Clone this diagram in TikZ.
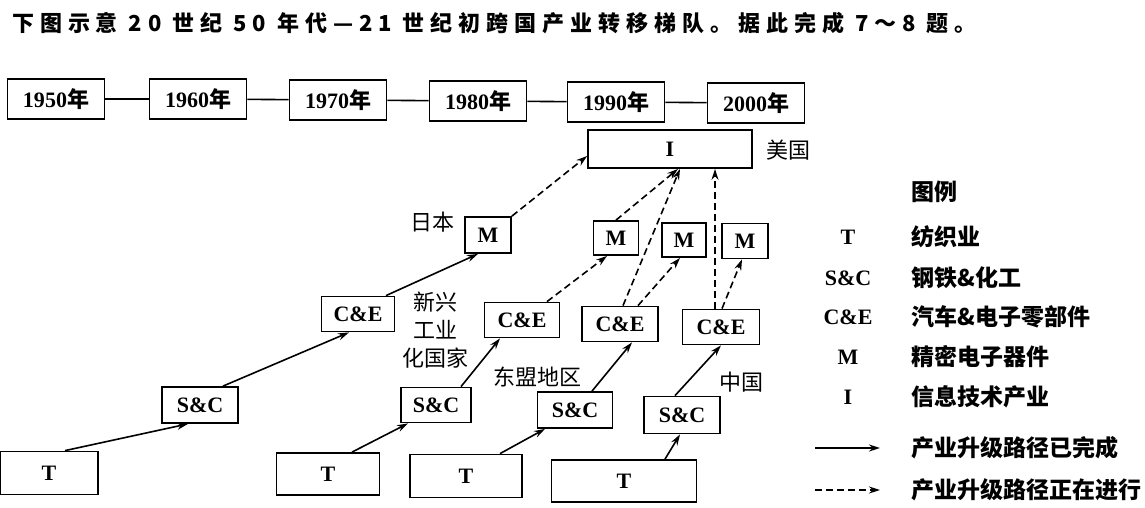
\documentclass[tikz,border=0pt]{standalone}
\usepackage{fontspec}
\setmainfont{Liberation Serif}
\newfontfamily\cjk{Noto Sans CJK SC}
\usetikzlibrary{arrows.meta,calc}
\newcommand\yrtxt[1]{#1{\cjk\bfseries 年}}
\begin{document}
\begin{tikzpicture}[x=1pt,y=-1pt,
  box/.style={draw,line width=1.8pt,inner sep=0pt,font=\fontsize{22}{24}\selectfont\bfseries},
  yr/.style={box,minimum width=97pt,minimum height=40pt},
  done/.style={line width=1.6pt,-{Stealth[length=11pt,width=7pt]}},
  todo/.style={done,dash pattern=on 7pt off 4pt},
  lab/.style={font=\fontsize{22}{28}\selectfont\cjk},
  legc/.style={font=\fontsize{22}{24}\selectfont\bfseries},
  legt/.style={anchor=west,font=\fontsize{23}{25}\selectfont\cjk\bfseries},
]
\useasboundingbox (0,0) rectangle (1145,508);
\fill[white] (0,0) rectangle (1145,508);

% title
\node[anchor=west,inner sep=0pt,font=\cjk\bfseries\fontsize{22}{24}\selectfont\addfontfeatures{LetterSpace=27}] (title) at (12,23)
  {下图示意 20 世纪 50 年代—21 世纪初跨国产业转移梯队。据此完成 7～8 题。};

% timeline
\node[yr] (y1950) at (56,99) {\yrtxt{1950}};
\node[yr] (y1960) at (198,99) {\yrtxt{1960}};
\node[yr] (y1970) at (338,100) {\yrtxt{1970}};
\node[yr] (y1980) at (478,101) {\yrtxt{1980}};
\node[yr] (y1990) at (616,102) {\yrtxt{1990}};
\node[yr] (y2000) at (756,103) {\yrtxt{2000}};
\foreach \a/\b in {y1950/y1960,y1960/y1970,y1970/y1980,y1980/y1990,y1990/y2000}
  \draw[line width=1.6pt] (\a) -- (\b);

% I
\node[box,minimum width=164pt,minimum height=38pt] (I) at (670,149) {I};
\node[lab] (usa) at (788,150) {美国};

% Japan chain
\node[box,minimum width=98pt,minimum height=43pt] (T1) at (49,473) {T};
\node[box,minimum width=76pt,minimum height=36pt] (SC1) at (200,405) {S\&C};
\node[box,minimum width=73pt,minimum height=35pt] (CE1) at (358,314) {C\&E};
\node[box,minimum width=46pt,minimum height=36pt] (MJ) at (488,235) {M};
\node[lab] (jp) at (432,222) {日本};

% NIE chain
\node[box,minimum width=103pt,minimum height=42pt] (T2) at (328,474) {T};
\node[box,minimum width=70pt,minimum height=35pt] (SC2) at (436,405) {S\&C};
\node[box,minimum width=75pt,minimum height=35pt] (CE2) at (522,320) {C\&E};
\node[box,minimum width=45pt,minimum height=34pt] (M2) at (616,238) {M};
\node[lab,align=center] (nie) at (435,330) {新兴\\工业\\化国家};

% ASEAN chain
\node[box,minimum width=112pt,minimum height=43pt] (T3) at (466,476) {T};
\node[box,minimum width=75pt,minimum height=36pt] (SC3) at (575,410) {S\&C};
\node[box,minimum width=76pt,minimum height=35pt] (CE3) at (620,324) {C\&E};
\node[box,minimum width=44pt,minimum height=34pt] (M3) at (684,240) {M};
\node[lab] (asean) at (537,377) {东盟地区};

% China chain
\node[box,minimum width=145pt,minimum height=42pt] (T4) at (624,481) {T};
\node[box,minimum width=76pt,minimum height=37pt] (SC4) at (682,415) {S\&C};
\node[box,minimum width=77pt,minimum height=35pt] (CE4) at (721,327) {C\&E};
\node[box,minimum width=46pt,minimum height=35pt] (M4) at (745,241) {M};
\node[lab] (cn) at (741,382) {中国};

% solid arrows
\draw[done] ($(T1.north)+(16,0)$) -- ($(SC1.south)+(-12,0)$);
\draw[done] ($(SC1.north)+(23,0)$) -- ($(CE1.south)+(-9,0)$);
\draw[done] ($(CE1.north)+(28,0)$) -- ($(MJ.south)+(-10,0)$);
\draw[done] ($(T2.north)+(24,0)$) -- ($(SC2.south)+(-28,0)$);
\draw[done] ($(SC2.north)+(25,0)$) -- ($(CE2.south)+(-22,0)$);
\draw[done] ($(T3.north)+(34,0)$) -- ($(SC3.south)+(-30,0)$);
\draw[done] ($(SC3.north)+(17,0)$) -- ($(CE3.south)+(12,0)$);
\draw[done] ($(T4.north)+(41,0)$) -- ($(SC4.south)+(-2,0)$);
\draw[done] ($(SC4.north)+(-7,0)$) -- ($(CE4.south)+(0,0)$);

% dashed arrows
\draw[todo] (MJ.north east) -- ($(I.west)+(0,7)$);
\draw[todo] ($(CE2.north)+(25,0)$) -- ($(M2.south)+(-9,0)$);
\draw[todo] (M2.north) -- ($(I.south)+(8,0)$);
\draw[todo] ($(CE3.north)+(3,0)$) -- ($(I.south)+(10,0)$);
\draw[todo] ($(CE3.north)+(18,0)$) -- ($(M3.south)+(-4,0)$);
\draw[todo] ($(CE4.north)+(-6,0)$) -- ($(I.south)+(45,0)$);
\draw[todo] ($(CE4.north)+(1,0)$) -- ($(M4.south)+(-3,0)$);

% legend
\node[legt] (legtitle) at (908,192) {图例};
\node[legc] (lT) at (848,237) {T};
\node[legt] (lTt) at (908,237) {纺织业};
\node[legc] (lS) at (848,278) {S\&C};
\node[legt] (lSt) at (908,278) {钢铁\&化工};
\node[legc] (lC) at (848,317) {C\&E};
\node[legt] (lCt) at (908,317) {汽车\&电子零部件};
\node[legc] (lM) at (848,357) {M};
\node[legt] (lMt) at (908,357) {精密电子器件};
\node[legc] (lI) at (848,397) {I};
\node[legt] (lIt) at (908,397) {信息技术产业};
\coordinate (la1) at (815,448);
\coordinate (la2) at (880,448);
\draw[done] (la1) -- (la2);
\node[legt] (lat) at (908,448) {产业升级路径已完成};
\coordinate (lb1) at (815,490);
\coordinate (lb2) at (880,490);
\draw[todo] (lb1) -- (lb2);
\node[legt] (lbt) at (908,490) {产业升级路径正在进行};
\end{tikzpicture}
\end{document}
